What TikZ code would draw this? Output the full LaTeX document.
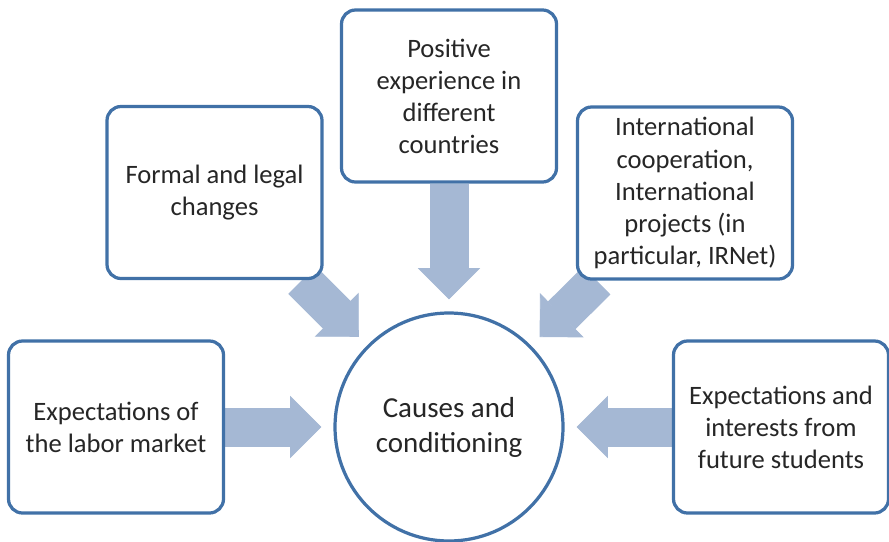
\documentclass[tikz,border=0pt]{standalone}
\usepackage{fontspec}
\setmainfont{Carlito}
\usetikzlibrary{arrows.meta,backgrounds}
\definecolor{boxline}{RGB}{65,113,167}
\definecolor{arrowfill}{RGB}{165,184,212}
\definecolor{textgray}{RGB}{38,38,38}

\begin{document}
\begin{tikzpicture}[
		box/.style={draw=boxline,line width=2.3pt,rounded corners=0.35cm,fill=white,minimum width=5.375cm,minimum height=4.3cm,inner sep=0pt,align=center,text=textgray,font=\fontsize{18.9}{22.8}\selectfont},
		hubnode/.style={circle,draw=boxline,line width=2.3pt,fill=white,minimum size=5.7cm,inner sep=0pt,align=center,text=textgray,font=\fontsize{20.6}{24.9}\selectfont},
		bigarrow/.style={draw=arrowfill,line width=0.975cm,shorten >=0.3cm,-{Triangle[width=1.55cm,length=0.78cm,line width=0.6pt]}}]
			\useasboundingbox (0,0) rectangle (22.225,13.525);
			\node[hubnode] (hub) at (11.225,2.85) {Causes and\\conditioning};
			\node[box] (positive) at (11.225,11.125) {Positive\\experience in\\different\\countries};
			\node[box] (legal) at (5.3625,8.7125) {Formal and legal\\changes};
			\node[box] (coop) at (17.125,8.7) {International\\cooperation,\\International\\projects (in\\particular, IRNet)};
			\node[box] (labor) at (2.9,2.85) {Expectations of\\the labor market};
			\node[box] (students) at (19.525,2.85) {Expectations and\\interests from\\future students};
			\begin{scope}[on background layer]
				\draw[bigarrow] (positive) -- (hub);
				\draw[bigarrow] (legal) -- (hub);
				\draw[bigarrow] (coop) -- (hub);
				\draw[bigarrow] (labor) -- (hub);
				\draw[bigarrow] (students) -- (hub);
			\end{scope}
		\end{tikzpicture}
\end{document}
